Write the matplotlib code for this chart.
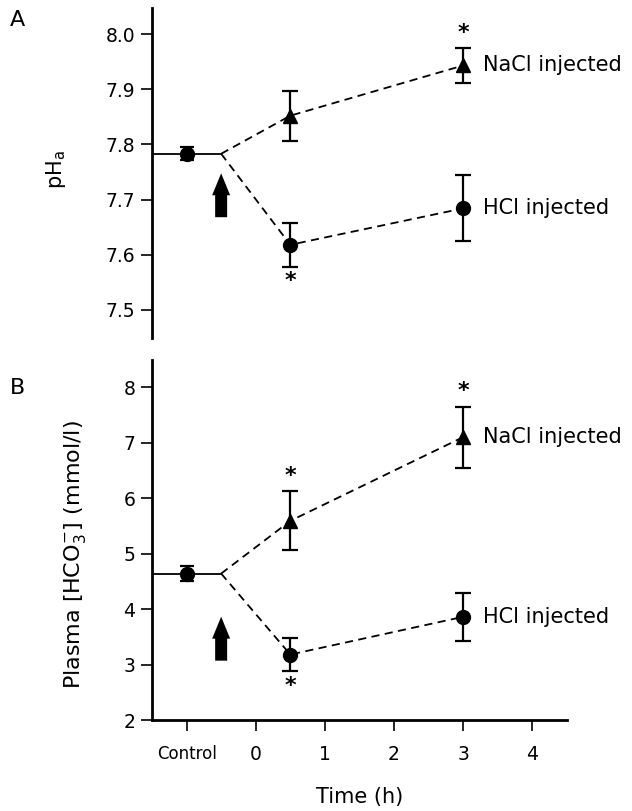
import numpy as np
import matplotlib
matplotlib.use("Agg")
import matplotlib.pyplot as plt

plt.rcParams['font.family'] = ['DejaVu Sans']

# Data
t_ctrl = -1.0
t_branch = -0.5
t_after = np.array([0.5, 3.0])

ph_ctrl, ph_ctrl_err = 7.783, 0.012
ph_nacl = np.array([7.852, 7.943])
ph_nacl_err = np.array([0.045, 0.032])
ph_hcl = np.array([7.618, 7.684])
ph_hcl_err = np.array([0.040, 0.060])

hco3_ctrl, hco3_ctrl_err = 4.64, 0.13
hco3_nacl = np.array([5.59, 7.10])
hco3_nacl_err = np.array([0.53, 0.55])
hco3_hcl = np.array([3.18, 3.86])
hco3_hcl_err = np.array([0.29, 0.43])

x_ticks = [-1, 0, 1, 2, 3, 4]
x_ticklabels = ['Control', '0', '1', '2', '3', '4']

fig = plt.figure(figsize=(6.32, 8.11), dpi=100)
axA = fig.add_axes([0.2405, 0.5832, 0.6565, 0.4068])
axB = fig.add_axes([0.2405, 0.1122, 0.6565, 0.4439])

px_per_h = 69.2


def draw_panel(ax, ctrl, ctrl_err, nacl, nacl_err, hcl, hcl_err, px_per_unit,
               arrow_y0, stars_nacl, stars_hcl, star_off):
    ax.plot([-1.5, t_branch], [ctrl, ctrl], color='k', lw=1.3)
    ax.plot([t_branch, *t_after], [ctrl, *nacl], color='k', lw=1.3, ls=(0, (4.5, 3)))
    ax.plot([t_branch, *t_after], [ctrl, *hcl], color='k', lw=1.3, ls=(0, (4.5, 3)))
    ax.errorbar([t_ctrl], [ctrl], yerr=[ctrl_err], fmt='o', color='k', ms=10,
                capsize=5, elinewidth=1.6, capthick=1.6, zorder=5)
    ax.errorbar(t_after, nacl, yerr=nacl_err, fmt='^', color='k', ms=9.5,
                capsize=6, elinewidth=1.6, capthick=1.6, zorder=5)
    ax.errorbar(t_after, hcl, yerr=hcl_err, fmt='o', color='k', ms=10,
                capsize=6, elinewidth=1.6, capthick=1.6, zorder=5)
    # injection arrow
    head_len = 22 / px_per_unit
    total = 44 / px_per_unit
    ax.arrow(t_branch, arrow_y0, 0, total, width=12 / px_per_h,
             head_width=18 / px_per_h, head_length=head_len,
             length_includes_head=True, color='k', lw=0)
    # significance stars
    for i in stars_nacl:
        ax.text(t_after[i], nacl[i] + nacl_err[i] + star_off, '*', ha='center',
                va='center', fontsize=16, fontweight='bold')
    for i in stars_hcl:
        ax.text(t_after[i], hcl[i] - hcl_err[i] - star_off, '*', ha='center',
                va='center', fontsize=16, fontweight='bold')
    ax.text(3.28, nacl[1], 'NaCl injected', ha='left', va='center', fontsize=15)
    ax.text(3.28, hcl[1], 'HCl injected', ha='left', va='center', fontsize=15)

    ax.set_xlim(-1.5, 4.5)
    for s in ['top', 'right']:
        ax.spines[s].set_visible(False)
    ax.spines['left'].set_linewidth(2)
    ax.spines['bottom'].set_linewidth(2)
    ax.tick_params(axis='both', direction='out', length=8, width=1.2,
                   labelsize=13.5, pad=4)


draw_panel(axA, ph_ctrl, ph_ctrl_err, ph_nacl, ph_nacl_err, ph_hcl, ph_hcl_err,
           553, 7.668, [1], [0], 0.026)
axA.set_ylim(7.449, 8.047)
axA.set_yticks([7.5, 7.6, 7.7, 7.8, 7.9, 8.0])
axA.set_yticklabels(['7.5', '7.6', '7.7', '7.8', '7.9', '8.0'])
axA.spines['bottom'].set_visible(False)
axA.set_xticks([])
axA.set_ylabel('pH$_\\mathregular{a}$', fontsize=15)
axA.yaxis.set_label_coords(-0.202, 0.51)

draw_panel(axB, hco3_ctrl, hco3_ctrl_err, hco3_nacl, hco3_nacl_err, hco3_hcl,
           hco3_hcl_err, 55.5, 3.07, [0, 1], [0], 0.28)
axB.set_ylim(2, 8.49)
axB.set_yticks([2, 3, 4, 5, 6, 7, 8])
axB.set_xticks(x_ticks)
axB.set_xticklabels(x_ticklabels)
axB.get_xticklabels()[0].set_fontsize(12)
axB.tick_params(axis='x', pad=10)
axB.set_ylabel('Plasma [HCO$_\\mathregular{3}^{\\mathregular{-}}$] (mmol/l)',
               fontsize=16)
axB.yaxis.set_label_coords(-0.155, 0.46)
axB.set_xlabel('Time (h)', fontsize=15)
axB.xaxis.set_label_coords(0.501, -0.186)

fig.text(0.015, 0.975, 'A', fontsize=16, va='center')
fig.text(0.015, 0.522, 'B', fontsize=16, va='center')

fig.savefig('out.png', dpi=100)
